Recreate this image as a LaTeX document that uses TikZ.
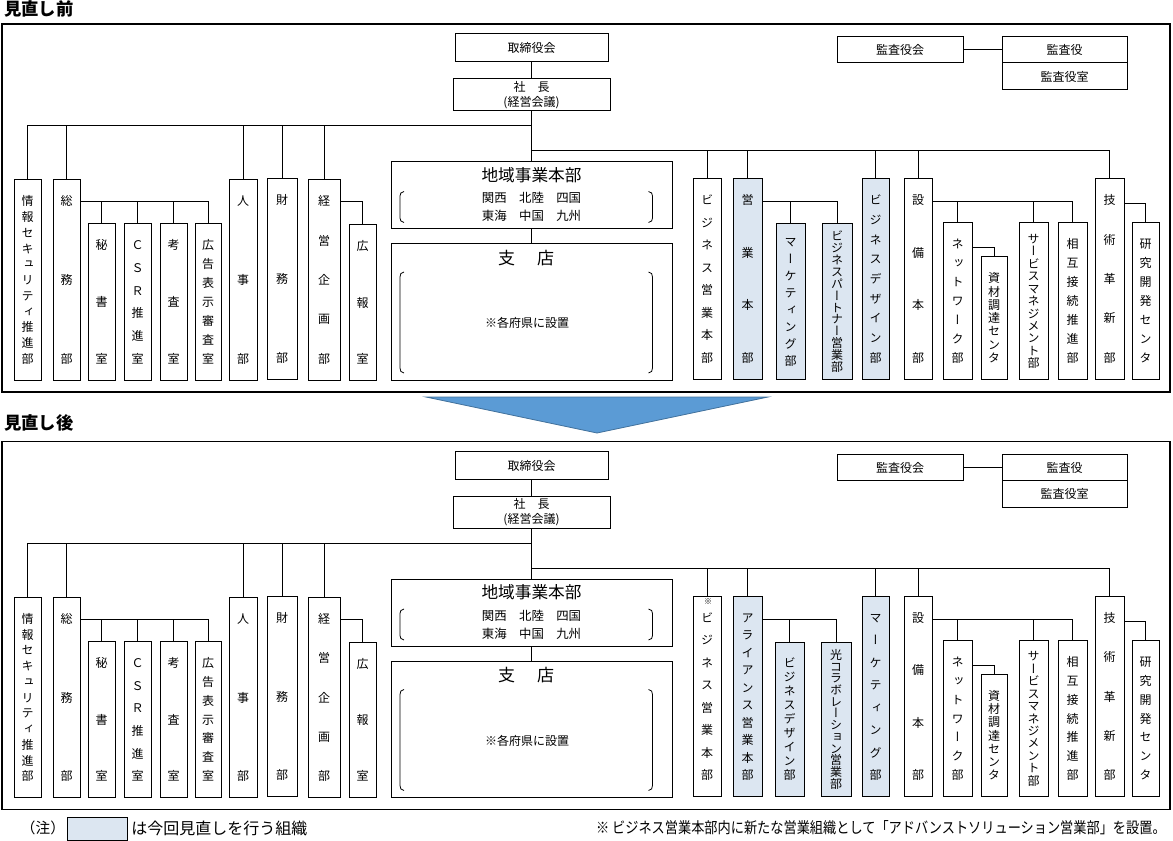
\documentclass[tikz,border=0pt]{standalone}
\usepackage{fontspec}
\setmainfont{Noto Sans CJK JP}
\newfontfamily\jpv[RawFeature=+vert]{Noto Sans CJK JP}
\definecolor{shade}{RGB}{220,230,241}
\definecolor{arrowblue}{RGB}{91,155,213}
\definecolor{arrowedge}{RGB}{65,113,156}
\newcommand\fs[1]{\fontsize{#1pt}{#1pt}\selectfont}
\makeatletter
\newif\iffirstch
\newcommand\vstk[2]{%
  \vbox to #1{\hsize=14pt\offinterlineskip\firstchtrue
    \@tfor\ch:=#2\do{%
      \iffirstch\firstchfalse\else\vskip 0pt plus 1fill minus 1fill\fi
      \hbox to\hsize{\hss\vrule height 0.88em depth 0.12em width 0pt\ch\hss}}}}
\makeatother
\tikzset{
 org/.style={draw=black,line width=0.75pt,fill=white,inner sep=0pt},
 shaded/.style={fill=shade},
 conn/.style={draw=black,line width=0.75pt},
 frame/.style={draw=black,line width=1pt},
 f9/.style={font=\fontsize{9pt}{11.25pt}\selectfont},
 txt/.style={inner sep=0pt},
 title/.style={inner sep=0pt,font=\bfseries\fs{13}},
 bracket/.style={draw=black,line width=0.6pt},
}
% vertical-text box: style, name, x1,y1,x2,y2, stack height (px or empty), chars
\newcommand\vb[8]{%
  \pgfmathsetmacro\bxw{(#5-#3)*0.75}%
  \pgfmathsetmacro\bxh{(#6-#4)*0.75}%
  \ifx\relax#7\relax\pgfmathsetmacro\stkh{(#6-#4-32)*0.75}\else\pgfmathsetmacro\stkh{(#7)*0.75}\fi
  \node[org,#1,minimum width=\bxw pt,minimum height=\bxh pt] (#2) at ({(#3+#5)/2},{(#4+#6)/2}) {\jpv\fs{9}\vstk{\stkh pt}{#8}};%
}
% horizontal-text box
\newcommand\hb[7]{%
  \pgfmathsetmacro\bxw{(#5-#3)*0.75}%
  \pgfmathsetmacro\bxh{(#6-#4)*0.75}%
  \node[org,#1,minimum width=\bxw pt,minimum height=\bxh pt,align=center] (#2) at ({(#3+#5)/2},{(#4+#6)/2}) {#7};%
}
\newcommand\commonpart{%
 \draw[frame] (2,24) rectangle (1170,392);
 \hb{f9}{tori}{455}{34}{608}{62}{取締役会}
 \hb{f9}{shacho}{453}{79}{610}{111}{社　長\\(経営会議)}
 \hb{f9}{kansakai}{837}{37}{963}{63}{監査役会}
 \hb{f9}{kansa}{1002}{37}{1127}{63}{監査役}
 \hb{f9}{kansashitsu}{1002}{63}{1127}{90}{監査役室}
 \hb{}{chiiki}{391}{162}{672}{229}{}
 \hb{}{shiten}{391}{244}{672}{380}{}
 \node[txt,font=\fs{12.5}] (chiikiT) at (531.5,175) {地域事業本部};
 \node[txt,font=\fs{9.3}] (chiikiA) at (531.5,198) {関西　北陸　四国};
 \node[txt,font=\fs{9.3}] (chiikiB) at (531.5,216) {東海　中国　九州};
 \node[txt,font=\fs{12.75}] (shitenT) at (526,258) {支\hspace{16.5pt}店};
 \node[txt,font=\fs{9}] (shitenN) at (527,323) {※各府県に設置};
 \draw[bracket] (404,191.5) .. controls (401,192) and (400,193.5) .. (400,196) -- (400,218) .. controls (400,220.5) and (401,222) .. (404,222.5);
 \draw[bracket] (648.5,191.5) .. controls (651.5,192) and (652.5,193.5) .. (652.5,196) -- (652.5,218) .. controls (652.5,220.5) and (651.5,222) .. (648.5,222.5);
 \draw[bracket] (404,272) .. controls (401,272.5) and (400,274) .. (400,277) -- (400,368) .. controls (400,371) and (401,372.5) .. (404,373);
 \draw[bracket] (648.5,272) .. controls (651.5,272.5) and (652.5,274) .. (652.5,277) -- (652.5,368) .. controls (652.5,371) and (651.5,372.5) .. (648.5,373);
 \vb{}{joho}{14}{180}{41}{380}{}{情報セキュリティ推進部}
 \vb{}{somu}{53}{180}{80}{380}{}{総務部}
 \vb{}{hisho}{88}{224}{115}{380}{}{秘書室}
 \vb{}{csr}{124}{224}{151}{380}{}{ＣＳＲ推進室}
 \vb{}{kousa}{160}{224}{187}{380}{}{考査室}
 \vb{}{koukoku}{195}{224}{221}{380}{}{広告表示審査室}
 \vb{}{jinji}{229}{180}{257}{380}{}{人事部}
 \vb{}{zaimu}{267}{179}{297}{379}{}{財務部}
 \vb{}{keiei}{308}{180}{340}{380}{}{経営企画部}
 \vb{}{kouhou}{349}{225}{376}{380}{}{広報室}
 \vb{}{bizeigyo}{693}{179}{721}{379}{}{ビジネス営業本部}
 \vb{}{setsubi}{904}{179}{932}{379}{}{設備本部}
 \vb{}{network}{943}{223}{972}{379}{}{ネットワーク部}
 \vb{}{shizai}{981}{257}{1007}{379}{}{資材調達センタ}
 \vb{}{service}{1019}{223}{1048}{379}{135}{サービスマネジメント部}
 \vb{}{sougo}{1058}{223}{1087}{379}{}{相互接続推進部}
 \vb{}{gijutsu}{1095}{179}{1124}{379}{}{技術革新部}
 \vb{}{kenkyu}{1132}{223}{1159}{379}{}{研究開発センタ}
 \coordinate (busL) at (531.5,126);
 \coordinate (busR) at (531.5,151);
 \coordinate (s1) at (0,202);
 \coordinate (s2) at (0,204);
 \coordinate (s3) at (0,248);
 \draw[conn] (tori.south) -- (shacho.north);
 \draw[conn] (shacho.south) -- (chiiki.north);
 \draw[conn] (chiiki.south) -- (shiten.north);
 \draw[conn] (kansakai.east) -- (kansa.west);
 \draw[conn] (joho.north) |- (busL);
 \foreach \n in {somu,jinji,zaimu,keiei} \draw[conn] (\n.north) -- (\n.north |- busL);
 \draw[conn] (gijutsu.north) |- (busR);
 \foreach \n in {bizeigyo,setsubi} \draw[conn] (\n.north) -- (\n.north |- busR);
 \draw[conn] (koukoku.north) |- (somu.east |- s1);
 \foreach \n in {hisho,csr,kousa} \draw[conn] (\n.north) -- (\n.north |- s1);
 \draw[conn] (kouhou.north) |- (keiei.east |- s1);
 \draw[conn] (sougo.north) |- (setsubi.east |- s1);
 \foreach \n in {network,service} \draw[conn] (\n.north) -- (\n.north |- s1);
 \draw[conn] (kenkyu.north) |- (gijutsu.east |- s2);
 \draw[conn] (shizai.north) |- (network.east |- s3);
}
\begin{document}
\begin{tikzpicture}[x=0.75pt,y=-0.75pt]
\useasboundingbox (0,0) rectangle (1173,841);
\node[title,anchor=west] (t1) at (4,9) {見直し前};
\node[title,anchor=west] (t2) at (4,423) {見直し後};
% before
\begin{scope}[name prefix=a-]
 \commonpart
 \vb{shaded}{eigyo}{733}{179}{762}{379}{}{営業本部}
 \vb{shaded}{mkt}{776}{224}{805}{379}{130}{マーケティング部}
 \vb{shaded}{bpart}{822}{224}{852}{379}{142}{ビジネスパートナー営業部}
 \vb{shaded}{bdes}{862}{179}{889}{379}{}{ビジネスデザイン部}
 \foreach \n in {eigyo,bdes} \draw[conn] (\n.north) -- (\n.north |- busR);
 \draw[conn] (bpart.north) |- (eigyo.east |- s1);
 \draw[conn] (mkt.north) -- (mkt.north |- s1);
\end{scope}
% arrow
\filldraw[fill=arrowblue,draw=arrowedge,line width=0.6pt] (426,397) -- (768,397) -- (597,433) -- cycle;
% after
\begin{scope}[name prefix=b-,shift={(0,417.5)}]
 \commonpart
 \vb{shaded}{alli}{733}{179}{762}{379}{}{アライアンス営業本部}
 \vb{shaded}{bdes}{775}{224.5}{804}{379}{}{ビジネスデザイン部}
 \vb{shaded}{hikari}{821}{224.5}{851}{379}{139}{光コラボレーション営業部}
 \vb{shaded}{mkt}{862}{179}{889}{379}{}{マーケティング部}
 \node[txt,font=\fs{6}] (kome) at (708,184.5) {※};
 \foreach \n in {alli,mkt} \draw[conn] (\n.north) -- (\n.north |- busR);
 \draw[conn] (hikari.north) |- (alli.east |- s1);
 \draw[conn] (bdes.north) -- (bdes.north |- s1);
\end{scope}
% footer
\node[txt,font=\fs{11}] (chu) at (43,828) {（注）};
\hb{shaded}{legend}{67}{817}{127}{840}{}
\node[txt,anchor=west,font=\fs{12}] (legtxt) at (131,828) {は今回見直しを行う組織};
\node[txt,anchor=east] (note) at (1166,828) {\scalebox{0.86}[1]{\fs{11.5}※ ビジネス営業本部内に新たな営業組織として「アドバンストソリューション営業部」を設置。}};
\end{tikzpicture}
\end{document}
